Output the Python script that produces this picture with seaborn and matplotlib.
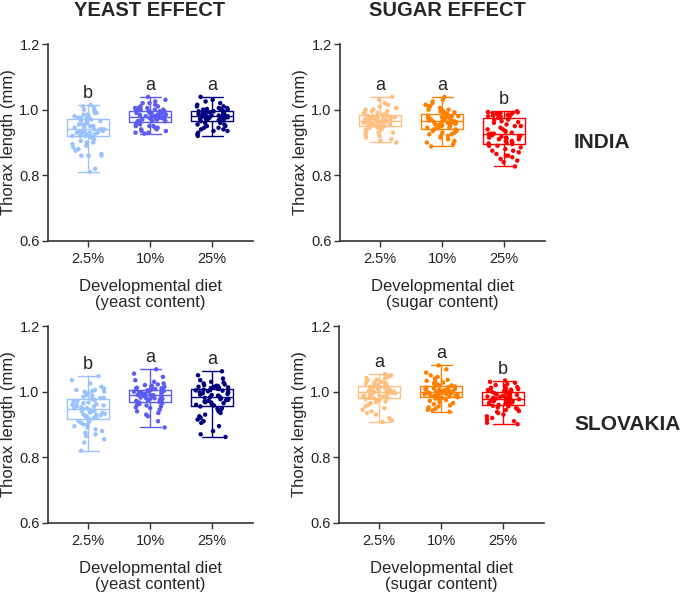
import numpy as np
import pandas as pd
import matplotlib
matplotlib.use('Agg')
import matplotlib.pyplot as plt
import seaborn as sns
from matplotlib import font_manager

diets = ['2.5%', '10%', '25%']
yeast_colors = ['#99c2ff', '#5c5cf5', '#00007f']
sugar_colors = ['#ffbf80', '#ff8000', '#ff0000']

# India - yeast effect
india_yeast_2_5 = [0.81, 0.82, 0.86, 0.86, 0.86, 0.865, 0.875, 0.88, 0.885, 0.89, 0.895, 0.90, 0.90, 0.905, 0.91, 0.915,
                   0.92, 0.92, 0.92, 0.92, 0.925, 0.925, 0.925, 0.93, 0.93, 0.93, 0.93, 0.935, 0.935, 0.935, 0.94, 0.94,
                   0.94, 0.94, 0.945, 0.945, 0.95, 0.95, 0.95, 0.955, 0.955, 0.96, 0.96, 0.96, 0.965, 0.965, 0.97, 0.97,
                   0.975, 0.975, 0.975, 0.975, 0.98, 0.98, 0.985, 0.985, 0.99, 0.99, 0.995, 1.0, 1.0, 1.005, 1.01, 1.015]
india_yeast_10 = [0.927, 0.93, 0.93, 0.935, 0.935, 0.94, 0.94, 0.945, 0.945, 0.95, 0.95, 0.95, 0.955, 0.955, 0.96, 0.96,
                  0.965, 0.965, 0.965, 0.965, 0.97, 0.97, 0.97, 0.97, 0.97, 0.975, 0.975, 0.975, 0.975, 0.975, 0.978, 0.978,
                  0.98, 0.98, 0.98, 0.98, 0.985, 0.985, 0.985, 0.985, 0.99, 0.99, 0.99, 0.99, 0.995, 0.995, 0.995, 0.995,
                  1.0, 1.0, 1.0, 1.0, 1.0, 1.005, 1.005, 1.005, 1.01, 1.01, 1.015, 1.02, 1.02, 1.025, 1.03, 1.039]
india_yeast_25 = [0.92, 0.925, 0.93, 0.935, 0.935, 0.94, 0.94, 0.945, 0.945, 0.95, 0.95, 0.955, 0.955, 0.96, 0.96, 0.965,
                  0.967, 0.967, 0.97, 0.97, 0.97, 0.972, 0.972, 0.975, 0.975, 0.975, 0.975, 0.977, 0.977, 0.978, 0.98, 0.98,
                  0.98, 0.98, 0.982, 0.982, 0.985, 0.985, 0.985, 0.987, 0.987, 0.99, 0.99, 0.99, 0.992, 0.992, 0.995, 0.995,
                  0.995, 0.995, 1.0, 1.0, 1.0, 1.0, 1.002, 1.005, 1.005, 1.01, 1.01, 1.015, 1.02, 1.025, 1.03, 1.039]

# India - sugar effect
india_sugar_2_5 = [0.9, 0.905, 0.91, 0.915, 0.92, 0.925, 0.93, 0.93, 0.935, 0.935, 0.94, 0.94, 0.945, 0.945, 0.95, 0.95,
                   0.95, 0.952, 0.952, 0.955, 0.955, 0.955, 0.957, 0.957, 0.96, 0.96, 0.96, 0.962, 0.962, 0.965, 0.965, 0.965,
                   0.965, 0.967, 0.967, 0.97, 0.97, 0.97, 0.972, 0.972, 0.975, 0.975, 0.975, 0.977, 0.977, 0.98, 0.98, 0.982,
                   0.983, 0.985, 0.985, 0.99, 0.99, 0.995, 0.995, 1.0, 1.0, 1.005, 1.005, 1.01, 1.015, 1.02, 1.03, 1.039]
india_sugar_10 = [0.888, 0.895, 0.9, 0.905, 0.91, 0.915, 0.92, 0.92, 0.925, 0.925, 0.93, 0.93, 0.935, 0.935, 0.94, 0.94,
                  0.943, 0.945, 0.945, 0.948, 0.95, 0.95, 0.952, 0.955, 0.955, 0.957, 0.96, 0.96, 0.96, 0.962, 0.962, 0.965,
                  0.965, 0.967, 0.967, 0.97, 0.97, 0.972, 0.972, 0.975, 0.975, 0.977, 0.977, 0.98, 0.98, 0.982, 0.985, 0.987,
                  0.988, 0.99, 0.99, 0.992, 0.995, 0.995, 1.0, 1.0, 1.005, 1.01, 1.01, 1.015, 1.02, 1.025, 1.03, 1.039]
india_sugar_25 = [0.827, 0.84, 0.845, 0.85, 0.855, 0.86, 0.86, 0.865, 0.87, 0.875, 0.875, 0.88, 0.885, 0.89, 0.89, 0.895,
                  0.897, 0.9, 0.9, 0.905, 0.905, 0.91, 0.91, 0.912, 0.915, 0.915, 0.918, 0.92, 0.92, 0.922, 0.925, 0.927,
                  0.927, 0.93, 0.933, 0.935, 0.94, 0.94, 0.945, 0.95, 0.95, 0.955, 0.96, 0.962, 0.965, 0.97, 0.97, 0.975,
                  0.977, 0.978, 0.98, 0.98, 0.982, 0.983, 0.985, 0.985, 0.987, 0.988, 0.99, 0.99, 0.99, 0.992, 0.993, 0.995]

# Slovakia - yeast effect
slovakia_yeast_2_5 = [0.82, 0.845, 0.855, 0.865, 0.87, 0.875, 0.88, 0.885, 0.89, 0.895, 0.9, 0.9, 0.905, 0.91, 0.91, 0.915,
                      0.917, 0.92, 0.92, 0.922, 0.925, 0.925, 0.928, 0.93, 0.93, 0.933, 0.935, 0.937, 0.94, 0.94, 0.943, 0.945,
                      0.947, 0.95, 0.95, 0.952, 0.955, 0.955, 0.958, 0.96, 0.96, 0.962, 0.965, 0.967, 0.97, 0.972, 0.975, 0.978,
                      0.98, 0.982, 0.985, 0.988, 0.99, 0.995, 1.0, 1.0, 1.002, 1.005, 1.005, 1.01, 1.015, 1.025, 1.035, 1.047]
slovakia_yeast_10 = [0.891, 0.91, 0.925, 0.93, 0.935, 0.94, 0.945, 0.95, 0.952, 0.955, 0.958, 0.96, 0.962, 0.965, 0.967, 0.968,
                     0.97, 0.972, 0.973, 0.975, 0.977, 0.978, 0.98, 0.98, 0.982, 0.983, 0.985, 0.985, 0.987, 0.988, 0.989, 0.99,
                     0.99, 0.991, 0.992, 0.993, 0.995, 0.995, 0.997, 0.998, 1.0, 1.0, 1.001, 1.002, 1.003, 1.004, 1.005, 1.006,
                     1.008, 1.008, 1.01, 1.01, 1.012, 1.015, 1.015, 1.018, 1.02, 1.022, 1.025, 1.03, 1.035, 1.045, 1.055, 1.068]
slovakia_yeast_25 = [0.862, 0.87, 0.88, 0.895, 0.905, 0.91, 0.915, 0.92, 0.925, 0.93, 0.935, 0.94, 0.945, 0.948, 0.95, 0.955,
                     0.958, 0.96, 0.962, 0.965, 0.967, 0.968, 0.97, 0.972, 0.974, 0.975, 0.977, 0.978, 0.98, 0.981, 0.983, 0.984,
                     0.986, 0.988, 0.99, 0.991, 0.993, 0.995, 0.996, 0.998, 1.0, 1.001, 1.003, 1.004, 1.005, 1.006, 1.008, 1.009,
                     1.011, 1.012, 1.013, 1.015, 1.015, 1.017, 1.018, 1.02, 1.022, 1.025, 1.028, 1.03, 1.035, 1.04, 1.05, 1.062]

# Slovakia - sugar effect
slovakia_sugar_2_5 = [0.908, 0.912, 0.92, 0.93, 0.935, 0.94, 0.945, 0.95, 0.955, 0.96, 0.965, 0.968, 0.97, 0.973, 0.975, 0.977,
                      0.98, 0.981, 0.982, 0.984, 0.985, 0.986, 0.988, 0.989, 0.99, 0.991, 0.992, 0.994, 0.995, 0.996, 0.997, 0.998,
                      0.999, 1.0, 1.001, 1.002, 1.003, 1.005, 1.006, 1.007, 1.008, 1.01, 1.011, 1.012, 1.014, 1.015, 1.016, 1.018,
                      1.02, 1.021, 1.022, 1.024, 1.025, 1.027, 1.028, 1.03, 1.032, 1.035, 1.037, 1.04, 1.042, 1.045, 1.05, 1.053]
slovakia_sugar_10 = [0.939, 0.942, 0.945, 0.948, 0.952, 0.955, 0.958, 0.962, 0.965, 0.968, 0.972, 0.975, 0.977, 0.979, 0.981, 0.983,
                     0.985, 0.986, 0.987, 0.988, 0.989, 0.99, 0.991, 0.992, 0.993, 0.994, 0.995, 0.995, 0.996, 0.996, 0.997, 0.997,
                     0.999, 1.0, 1.0, 1.001, 1.002, 1.003, 1.004, 1.005, 1.006, 1.007, 1.008, 1.01, 1.011, 1.012, 1.014, 1.016,
                     1.018, 1.019, 1.02, 1.022, 1.024, 1.026, 1.028, 1.03, 1.033, 1.036, 1.04, 1.045, 1.05, 1.058, 1.068, 1.08]
slovakia_sugar_25 = [0.901, 0.905, 0.91, 0.915, 0.92, 0.925, 0.93, 0.935, 0.938, 0.941, 0.944, 0.947, 0.95, 0.952, 0.955, 0.957,
                     0.96, 0.961, 0.963, 0.964, 0.966, 0.967, 0.968, 0.97, 0.971, 0.972, 0.973, 0.974, 0.975, 0.976, 0.977, 0.978,
                     0.979, 0.98, 0.981, 0.983, 0.984, 0.985, 0.987, 0.988, 0.99, 0.991, 0.992, 0.994, 0.995, 0.996, 0.997, 0.998,
                     1.0, 1.001, 1.002, 1.003, 1.005, 1.006, 1.008, 1.01, 1.012, 1.014, 1.017, 1.02, 1.023, 1.027, 1.03, 1.034]

yeast_letters = ['b', 'a', 'a']
sugar_letters = ['a', 'a', 'b']

sns.set_style('ticks')
plt.rcParams['font.family'] = ['Liberation Sans', 'DejaVu Sans']
np.random.seed(3)

installed = {f.name for f in font_manager.fontManager.ttflist}
if 'Liberation Sans Narrow' in installed:
    title_font = dict(family='Liberation Sans Narrow', size=18, weight='bold')
else:
    title_font = dict(family='Liberation Sans', size=14.5, weight='bold')

W, H = 685, 596
fig = plt.figure(figsize=(W / 100, H / 100), dpi=100)


def make_frame(groups):
    rows = []
    for diet, vals in zip(diets, groups):
        for v in vals:
            rows.append({'diet': diet, 'length': v})
    return pd.DataFrame(rows)


def draw_panel(px_left, px_top, groups, colors, letters, xlabel):
    ax = fig.add_axes([px_left / W, 1 - (px_top + 197) / H, 205 / W, 197 / H])
    df = make_frame(groups)
    sns.boxplot(data=df, x='diet', y='length', hue='diet', order=diets, hue_order=diets,
                palette=colors, fill=False, whis=(0, 100), showfliers=False,
                width=0.68, linewidth=1.0, legend=False, ax=ax)
    sns.stripplot(data=df, x='diet', y='length', hue='diet', order=diets, hue_order=diets,
                  palette=colors, jitter=0.27, size=3.2, linewidth=0, legend=False,
                  zorder=3, ax=ax)
    for i, (vals, letter) in enumerate(zip(groups, letters)):
        ax.text(i, max(vals) + 0.035, letter, ha='center', va='center', fontsize=13)
    ax.set_ylim(0.6, 1.2)
    ax.set_xlim(-0.65, 2.66)
    ax.set_yticks([0.6, 0.8, 1.0, 1.2])
    ax.set_yticklabels(['0.6', '0.8', '1.0', '1.2'])
    ax.set_ylabel('Thorax length (mm)', fontsize=12)
    ax.yaxis.set_label_coords(-0.155, 0.5)
    ax.set_xlabel(xlabel, fontsize=12, labelpad=9, linespacing=1.1)
    sns.despine(ax=ax)
    for s in ['left', 'bottom']:
        ax.spines[s].set_linewidth(1.2)
        ax.spines[s].set_color('#333333')
    ax.tick_params(axis='both', length=4, width=1.0, color='#333333', labelsize=10.5, labelcolor='#222222')
    ax.tick_params(axis='y', pad=2)
    ax.tick_params(axis='x', pad=4)
    return ax


draw_panel(48, 44, [india_yeast_2_5, india_yeast_10, india_yeast_25], yeast_colors, yeast_letters,
           'Developmental diet\n(yeast content)')
draw_panel(340, 44, [india_sugar_2_5, india_sugar_10, india_sugar_25], sugar_colors, sugar_letters,
           'Developmental diet\n(sugar content)')
draw_panel(48, 326, [slovakia_yeast_2_5, slovakia_yeast_10, slovakia_yeast_25], yeast_colors, yeast_letters,
           'Developmental diet\n(yeast content)')
draw_panel(339, 326, [slovakia_sugar_2_5, slovakia_sugar_10, slovakia_sugar_25], sugar_colors, sugar_letters,
           'Developmental diet\n(sugar content)')

fig.text(150 / W, 1 - 10.5 / H, 'YEAST EFFECT', ha='center', va='center', **title_font)
fig.text(447 / W, 1 - 10.5 / H, 'SUGAR EFFECT', ha='center', va='center', **title_font)
fig.text(602 / W, 1 - 143 / H, 'INDIA', ha='center', va='center', fontsize=15, fontweight='bold')
fig.text(628 / W, 1 - 424 / H, 'SLOVAKIA', ha='center', va='center', fontsize=15, fontweight='bold')

fig.savefig('out.png', dpi=100)
